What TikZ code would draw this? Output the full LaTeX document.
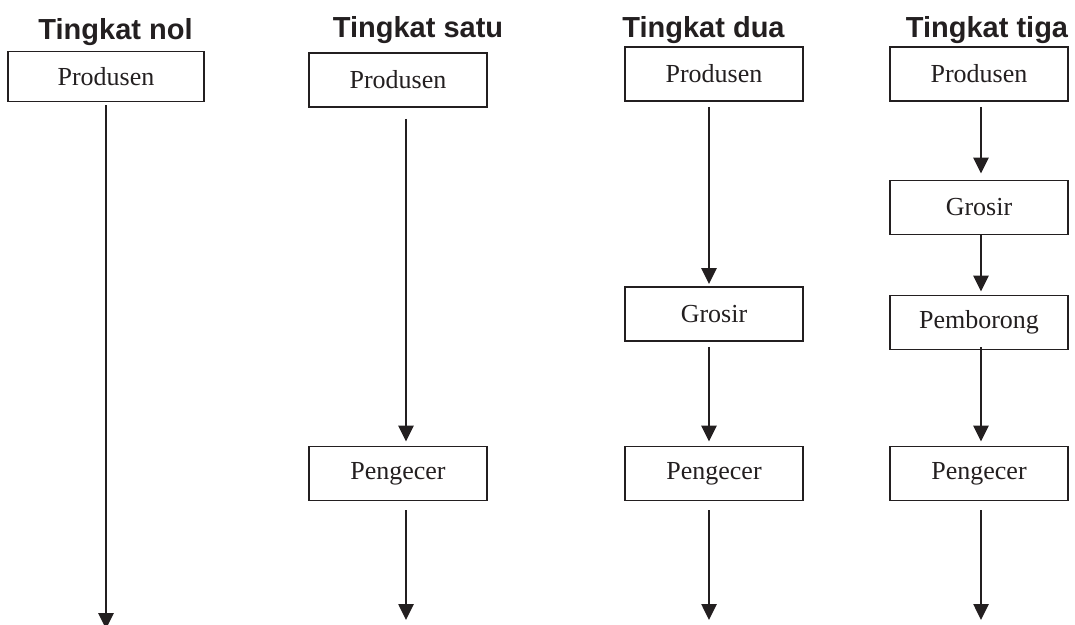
\documentclass[tikz,border=0pt]{standalone}
\usepackage{fontspec}
\setmainfont{Liberation Serif}
\newfontfamily\titlefont{Liberation Sans}
\usetikzlibrary{arrows.meta}
\definecolor{ink}{HTML}{231F20}
\begin{document}
\begin{tikzpicture}[x=1pt,y=-1pt,
 box/.style={draw=ink,line width=1.8pt,minimum width=178pt,minimum height=54pt,inner sep=0pt,text=ink,font=\fontsize{26}{30}\selectfont},
 ttl/.style={anchor=base,font=\titlefont\bfseries\fontsize{29}{32}\selectfont,text=ink,inner sep=0pt},
 arr/.style={draw=ink,line width=2.6pt,-{Triangle[length=16pt,width=15pt]}}]
\useasboundingbox (0,0) rectangle (1075,624);
% titles
\node[ttl] (t0) at (115.5,39) {Tingkat nol};
\node[ttl] (t1) at (418,37) {Tingkat satu};
\node[ttl] (t2) at (703.5,37) {Tingkat dua};
\node[ttl] (t3) at (987,37) {Tingkat tiga};
% column 0
\node[box,minimum width=196pt,minimum height=50pt] (p0) at (106,76.5) {Produsen};
\coordinate (e0) at (106,629);
\draw[arr] ([shift={(0,3)}]p0.south) -- (e0);
% column 1
\node[box] (p1) at (398,80) {Produsen};
\node[box] (r1) at (398,473.5) {Pengecer};
\coordinate (e1) at (406,620);
\draw[arr] ([shift={(8,11)}]p1.south) -- ([shift={(8,-4)}]r1.north);
\draw[arr] ([shift={(8,9)}]r1.south) -- (e1);
% column 2
\node[box] (p2) at (714,74) {Produsen};
\node[box] (g2) at (714,314) {Grosir};
\node[box] (r2) at (714,473.5) {Pengecer};
\coordinate (e2) at (709,620);
\draw[arr] ([shift={(-5,5)}]p2.south) -- ([shift={(-5,-2)}]g2.north);
\draw[arr] ([shift={(-5,5)}]g2.south) -- ([shift={(-5,-4)}]r2.north);
\draw[arr] ([shift={(-5,9)}]r2.south) -- (e2);
% column 3
\node[box] (p3) at (979,74) {Produsen};
\node[box] (g3) at (979,207.5) {Grosir};
\node[box] (b3) at (979,322.5) {Pemborong};
\node[box] (r3) at (979,473.5) {Pengecer};
\coordinate (e3) at (981,620);
\draw[arr] ([shift={(2,5)}]p3.south) -- ([shift={(2,-6)}]g3.north);
\draw[arr] ([shift={(2,0)}]g3.south) -- ([shift={(2,-3)}]b3.north);
\draw[arr] ([shift={(2,-3)}]b3.south) -- ([shift={(2,-4)}]r3.north);
\draw[arr] ([shift={(2,9)}]r3.south) -- (e3);
\end{tikzpicture}
\end{document}
